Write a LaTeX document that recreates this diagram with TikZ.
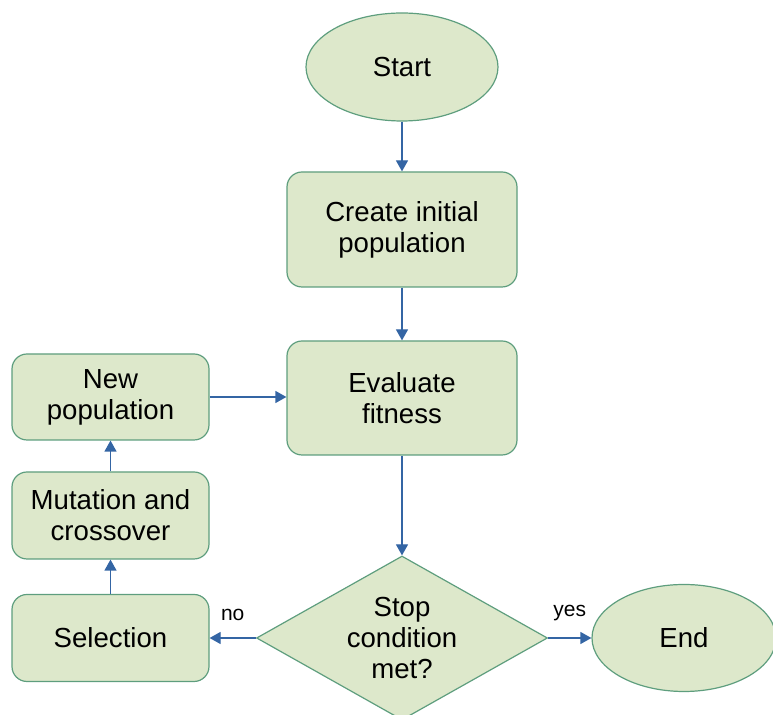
\documentclass[tikz,border=0pt]{standalone}
\usepackage{fontspec}
\setmainfont{Liberation Sans}
\usetikzlibrary{positioning,arrows.meta,shapes.geometric}

\definecolor{boxfill}{HTML}{DDE8CB}
\definecolor{boxline}{HTML}{5E9E7E}
\definecolor{flowblue}{HTML}{3465A4}

\begin{document}
\begin{tikzpicture}[x=0.5pt,y=-0.5pt,
	every node/.style={font=\fontsize{13.8}{15.6}\selectfont,align=center},
	box/.style={draw=boxline,fill=boxfill,line width=0.6pt,rounded corners=7.5pt,inner sep=0pt},
	term/.style={ellipse,draw=boxline,fill=boxfill,line width=0.6pt,inner sep=0pt},
	test/.style={diamond,aspect=1.77,draw=boxline,fill=boxfill,line width=0.6pt,inner sep=0pt},
	flow/.style={draw=flowblue,line width=0.6pt,-{Triangle[width=6pt,length=5.5pt]}},
	tag/.style={font=\fontsize{10.5}{12}\selectfont}]
	\useasboundingbox (0,0) rectangle (773,715);
	% main column
	\node[term,minimum width=96pt,minimum height=54pt] (start) at (402,67) {Start};
	\node[box,minimum width=115pt,minimum height=57.5pt] (init) at (402,229.5) {Create initial\\population};
	\node[box,minimum width=115pt,minimum height=57pt] (eval) at (402,398) {Evaluate\\fitness};
	\node[test,minimum width=145.5pt,minimum height=82pt] (stop) at (402,638) {Stop\\condition\\met?};
	\node[term,minimum width=92pt,minimum height=53.5pt] (end) at (684,638) {End};
	% loop back
	\node[box,minimum width=98.5pt,minimum height=43pt] (newpop) at (110.5,397) {New\\population};
	\node[box,minimum width=98.5pt,minimum height=43.5pt] (mutate) at (110.5,515.5) {Mutation and\\crossover};
	\node[box,minimum width=98.5pt,minimum height=43.5pt] (select) at (110.5,638) {Selection};
	% connectors
	\draw[flow] (start) -- (init);
	\draw[flow] (init) -- (eval);
	\draw[flow] (eval) -- (stop);
	\draw[flow] (stop.west) -- node[tag,above=5pt] {no} (select.east);
	\draw[flow] (stop.east) -- node[tag,above=5pt] {yes} (end.west);
	\draw[flow] (select) -- (mutate);
	\draw[flow] (mutate) -- (newpop);
	\draw[flow] (newpop) -- (eval.west |- newpop.east);
\end{tikzpicture}
\end{document}
